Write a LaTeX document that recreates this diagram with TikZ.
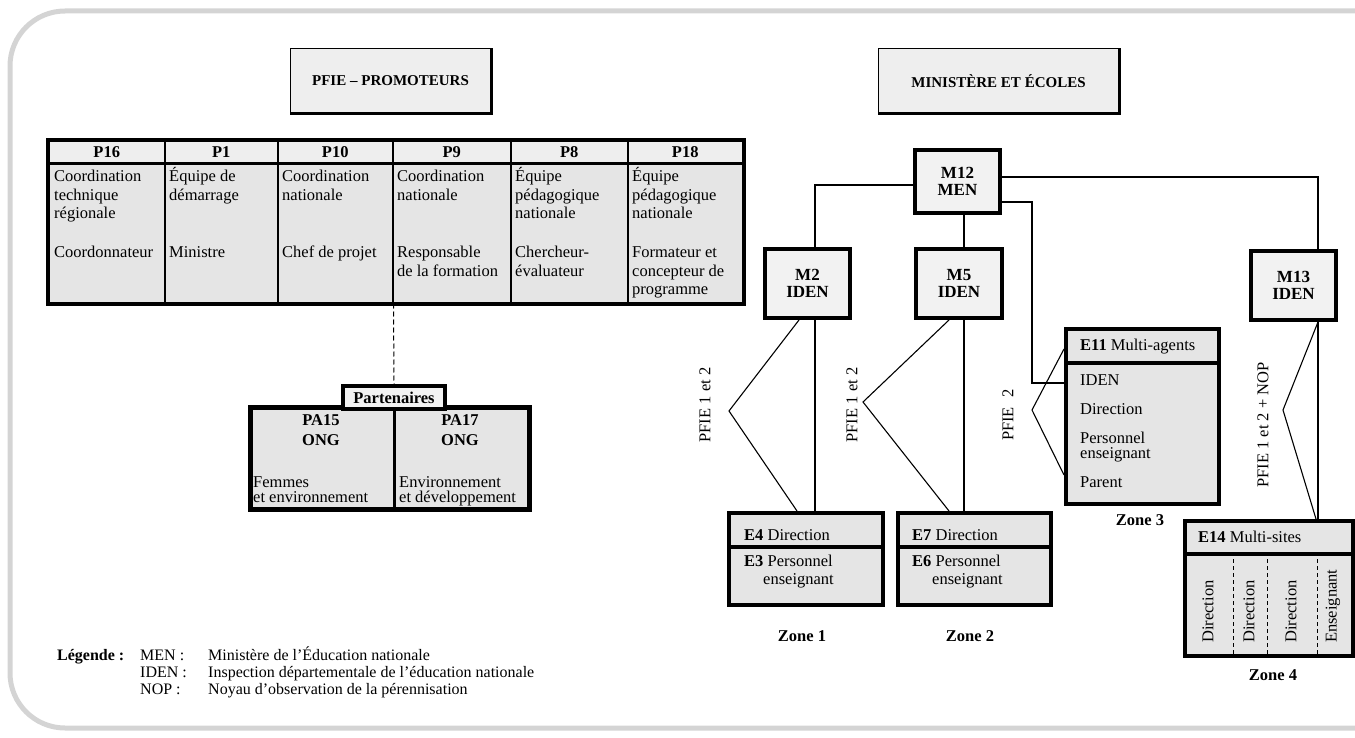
\documentclass[tikz,border=0pt]{standalone}
\usepackage{fontspec}
\setmainfont{Liberation Serif}
\usetikzlibrary{calc}
\definecolor{framegray}{HTML}{D4D4D4}
\definecolor{cellgray}{HTML}{E5E5E5}
\definecolor{mgray}{HTML}{F2F2F2}
\definecolor{headgray}{HTML}{EEEEEE}
\newcommand\myfs{\fontsize{16.5}{18.5}\selectfont}
\newcommand\legfs{\fontsize{16}{17}\selectfont}
\newcommand\ml[1]{\parbox[t]{150pt}{\raggedright #1}}
\newcommand\mc[1]{\begin{tabular}[t]{@{}c@{}}#1\end{tabular}}
\begin{document}
\begin{tikzpicture}[x=1pt,y=-1pt,
  every node/.style={inner sep=0pt, font=\myfs},
  hcell/.style={draw, line width=1.5pt, fill=headgray, anchor=north west, minimum height=22pt, font=\myfs\bfseries},
  bcell/.style={draw, line width=1.5pt, fill=cellgray, anchor=north west, minimum height=140pt},
  txt/.style={anchor=base west},
  mbox/.style={draw, line width=4pt, fill=mgray, anchor=north west, align=center, font=\fontsize{17}{17.5}\selectfont\bfseries},
  ebox/.style={draw, line width=4pt, fill=cellgray, anchor=north west},
  conn/.style={line width=1.1pt},
  zonelbl/.style={font=\myfs\bfseries},
  vlabel/.style={rotate=90, font=\myfs},
  titlebox/.style={draw, line width=1pt, fill=headgray, anchor=north west, font=\fontsize{15}{17}\selectfont\bfseries},
]
\useasboundingbox (0,0) rectangle (1355,738);
\begin{scope}
  \clip (0,0) rectangle (1355,738);
  \draw[framegray, line width=5pt, rounded corners=55pt] (10,11) rectangle (1420,728);
\end{scope}

% titles
\node[titlebox, minimum width=200pt, minimum height=65pt] (T1) at (290,48) {PFIE -- PROMOTEURS};
\draw[line width=3pt] (T1.south west) -- (T1.south east) -- (T1.north east);
\node[titlebox, minimum width=240pt, minimum height=65pt] (T2) at (878,48) {MINISTÈRE ET ÉCOLES};
\draw[line width=3pt] (T2.south west) -- (T2.south east) -- (T2.north east);

% table
\node[hcell, minimum width=116pt] (h1) at (48,140) {P16};
\node[hcell, minimum width=113pt] (h2) at (164,140) {P1};
\node[hcell, minimum width=115pt] (h3) at (277,140) {P10};
\node[hcell, minimum width=118pt] (h4) at (392,140) {P9};
\node[hcell, minimum width=117pt] (h5) at (510,140) {P8};
\node[hcell, minimum width=115pt] (h6) at (627,140) {P18};
\node[bcell, minimum width=116pt] (b1) at (48,162) {};
\node[bcell, minimum width=113pt] (b2) at (164,162) {};
\node[bcell, minimum width=115pt] (b3) at (277,162) {};
\node[bcell, minimum width=118pt] (b4) at (392,162) {};
\node[bcell, minimum width=117pt] (b5) at (510,162) {};
\node[bcell, minimum width=115pt] (b6) at (627,162) {};
\draw[line width=4pt] (h1.north west) rectangle (b6.south east);
\draw[line width=3pt] (h1.south west) -- (h6.south east);

\node[txt] (t1a) at (54,182) {\ml{Coordination\\technique\\régionale}};
\node[txt] (t1b) at (54,258) {\ml{Coordonnateur}};
\node[txt] (t2a) at (169,182) {\ml{Équipe de\\démarrage}};
\node[txt] (t2b) at (169,258) {\ml{Ministre}};
\node[txt] (t3a) at (282,182) {\ml{Coordination\\nationale}};
\node[txt] (t3b) at (282,258) {\ml{Chef de projet}};
\node[txt] (t4a) at (397,182) {\ml{Coordination\\nationale}};
\node[txt] (t4b) at (397,258) {\ml{Responsable\\de la formation}};
\node[txt] (t5a) at (515,182) {\ml{Équipe\\pédagogique\\nationale}};
\node[txt] (t5b) at (515,258) {\ml{Chercheur-\\évaluateur}};
\node[txt] (t6a) at (632,182) {\ml{Équipe\\pédagogique\\nationale}};
\node[txt] (t6b) at (632,258) {\ml{Formateur et\\concepteur de\\programme}};

% partenaires
\node[ebox, line width=2.5pt, minimum width=143pt, minimum height=100pt] (pa15) at (250,407) {};
\node[ebox, line width=2.5pt, minimum width=134pt, minimum height=100pt] (pa17) at (393,407) {};
\draw[line width=4pt] (pa15.north west) rectangle (pa17.south east);
\node[ebox, fill=mgray, minimum width=102pt, minimum height=23pt, font=\myfs\bfseries] (part) at (341,384) {Partenaires};
\draw[dash pattern=on 5pt off 3pt, line width=1pt] (b3.south east) -- (part.north);
\node[anchor=base, font=\fontsize{16.5}{20}\selectfont\bfseries] (pa15t) at (321,425) {\mc{PA15\\ONG}};
\node[anchor=base, font=\fontsize{16.5}{20}\selectfont\bfseries] (pa17t) at (460,425) {\mc{PA17\\ONG}};
\node[txt] (pa15d) at (253,487) {\fontsize{16.5}{15.5}\selectfont\ml{Femmes\\et environnement}};
\node[txt] (pa17d) at (399,487) {\fontsize{16.5}{15.5}\selectfont\ml{Environnement\\et développement}};

% ministry side
\node[mbox, minimum width=85pt, minimum height=63pt] (M12) at (913,148) {M12\\MEN};
\node[mbox, minimum width=85pt, minimum height=69pt] (M2) at (763,247) {M2\\IDEN};
\node[mbox, minimum width=86pt, minimum height=69pt] (M5) at (914,247) {M5\\IDEN};
\node[mbox, minimum width=85pt, minimum height=69pt] (M13) at (1249,249) {M13\\IDEN};

\node[ebox, minimum width=154pt, minimum height=34pt] (E4h) at (727,511) {};
\node[ebox, minimum width=154pt, minimum height=58pt] (E4b) at (727,545) {};
\node[txt] (E4t) at (744,540) {\textbf{E4} Direction};
\node[txt] (E3t) at (744,566) {\ml{\textbf{E3} Personnel\\\hspace*{19pt}enseignant}};

\node[ebox, minimum width=153pt, minimum height=34pt] (E7h) at (896,511) {};
\node[ebox, minimum width=153pt, minimum height=58pt] (E7b) at (896,545) {};
\node[txt] (E7t) at (912,540) {\textbf{E7} Direction};
\node[txt] (E6t) at (912,566) {\ml{\textbf{E6} Personnel\\\hspace*{20pt}enseignant}};

\node[ebox, minimum width=153pt, minimum height=34pt] (E11h) at (1064,327) {};
\node[ebox, minimum width=153pt, minimum height=141pt] (E11b) at (1064,361) {};
\node[txt] (E11t) at (1080,350) {\textbf{E11} Multi-agents};
\node[txt] (E11a) at (1080,385) {IDEN};
\node[txt] (E11c) at (1080,414) {Direction};
\node[txt] (E11d) at (1080,443) {\fontsize{16.5}{15}\selectfont\ml{Personnel\\enseignant}};
\node[txt] (E11e) at (1080,487) {Parent};

\node[ebox, minimum width=168pt, minimum height=33pt] (E14h) at (1183,519) {};
\node[ebox, minimum width=168pt, minimum height=102pt] (E14b) at (1183,552) {};
\node[txt] (E14t) at (1198,542) {\textbf{E14} Multi-sites};
\coordinate (d1) at (1233,0);
\coordinate (d2) at (1267,0);
\coordinate (d3) at (1317,0);
\foreach \d in {d1,d2,d3}
  \draw[dash pattern=on 4pt off 3pt, line width=0.8pt] (E14b.north -| \d) -- (E14b.south -| \d);
\node[vlabel, anchor=west] (s1) at (1208,643) {Direction};
\node[vlabel, anchor=west] (s2) at (1249,643) {Direction};
\node[vlabel, anchor=west] (s3) at (1291,643) {Direction};
\node[vlabel, anchor=west] (s4) at (1333,643) {Enseignant};

% connectors
\coordinate (m5x) at (964,0);
\coordinate (m13x) at (1318,0);
\coordinate (c11) at (1032,383);
\draw[conn] ([yshift=-3.5pt]M12.west) -| ([xshift=7.5pt]M2.north);
\draw[conn] (M12.south -| m5x) -- (M5.north -| m5x);
\draw[conn] ([yshift=4.5pt]M12.east) -| (M13.north -| m13x);
\draw[conn] ([yshift=-20.5pt]M12.east) -| (c11) -- (c11 -| E11b.west);

\draw[conn] ([xshift=7.5pt]M2.south) -- ([xshift=9pt]E4h.north);
\coordinate (a2) at (729,411);
\draw[conn] ([xshift=-8.5pt]M2.south) -- (a2) -- ([xshift=-9pt]E4h.north);

\draw[conn] (M5.south -| m5x) -- (E7h.north -| m5x);
\coordinate (a5) at (863,402);
\draw[conn] ([xshift=-10pt]M5.south) -- (a5) -- ([xshift=-25.5pt]E7h.north);

\coordinate (a11) at (1032,410);
\draw[conn] ([yshift=-3pt]E11h.west) -- (a11) -- ([yshift=-41.5pt]E11b.west);

\draw[conn] (M13.south -| m13x) -- (E14h.north -| m13x);
\coordinate (a13) at (1283,410);
\draw[conn] (M13.south -| m13x) -- (a13) -- ([xshift=-2pt]E14h.north -| m13x);

% rotated labels
\node[vlabel] (l1) at (705,405) {PFIE 1 et 2};
\node[vlabel] (l2) at (852,405) {PFIE 1 et 2};
\node[vlabel] (l3) at (1008,415) {PFIE\,\, 2};
\node[vlabel] (l4) at (1263,425) {PFIE 1 et 2 + NOP};

% zones
\node[zonelbl] (z1) at (802,636) {Zone 1};
\node[zonelbl] (z2) at (970,636) {Zone 2};
\node[zonelbl] (z3) at (1140,520) {Zone 3};
\node[zonelbl] (z4) at (1273,675) {Zone 4};

% legend
\node[txt, font=\legfs\bfseries] (leg) at (57,660) {Légende :};
\node[txt, font=\legfs] (k1) at (140,660) {MEN :};
\node[txt, font=\legfs] (k2) at (140,677) {IDEN :};
\node[txt, font=\legfs] (k3) at (140,694) {NOP :};
\node[txt, font=\legfs] (v1) at (208,660) {Ministère de l’Éducation nationale};
\node[txt, font=\legfs] (v2) at (208,677) {Inspection départementale de l’éducation nationale};
\node[txt, font=\legfs] (v3) at (208,694) {Noyau d’observation de la pérennisation};
\end{tikzpicture}
\end{document}
